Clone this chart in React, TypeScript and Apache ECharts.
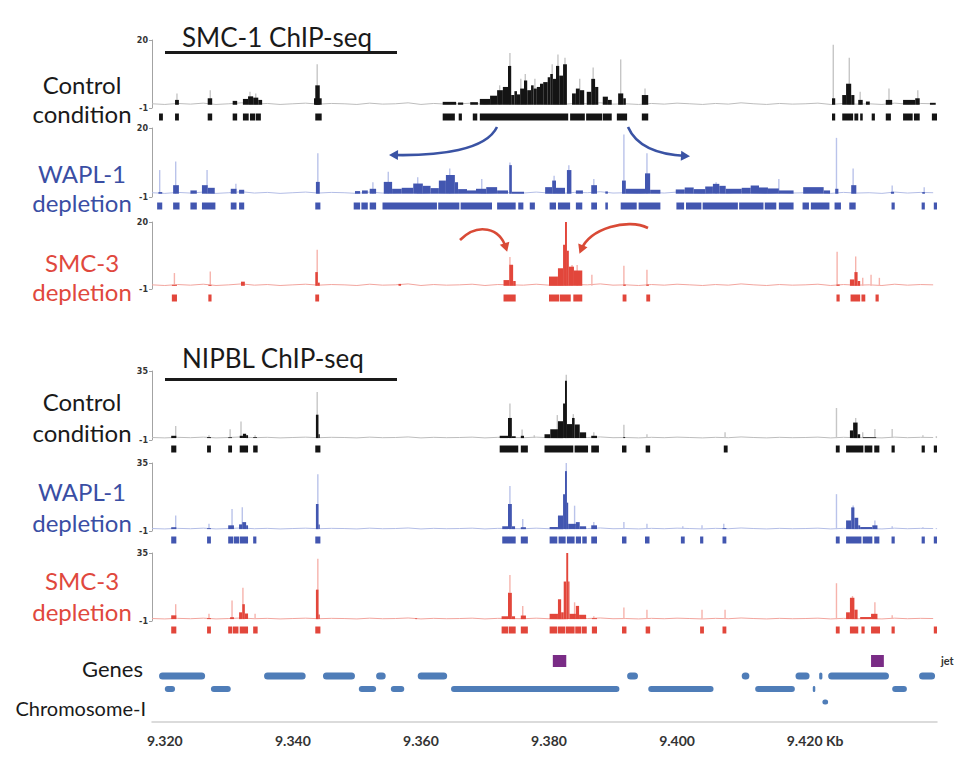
import React, { useEffect, useRef } from "react";
import * as echarts from "echarts";

// ---------- genomic axis (kb) ----------
const X_MIN = 9318;
const X_MAX = 9440.6;
const X_TICKS = [9320, 9340, 9360, 9380, 9400, 9420];

// background read-depth noise (every 2 kb from 9318)
const NOISE_X0 = 9318;
const NOISE_STEP = 2;
const NOISE = [
  0.3, 0.1, 0.4, 0.2, 0.5, 0.1, 0.3, 0.6, 0.2, 0.4,
  0.1, 0.3, 0.5, 0.2, 0.4, 0.3, 0.1, 0.5, 0.2, 0.3,
  0.6, 0.1, 0.4, 0.2, 0.3, 0.5, 0.1, 0.4, 0.3, 0.2,
  0.5, 0.2, 0.1, 0.4, 0.3, 0.6, 0.2, 0.3, 0.1, 0.4,
  0.2, 0.5, 0.3, 0.1, 0.4, 0.2, 0.6, 0.3, 0.1, 0.4,
  0.2, 0.3, 0.5, 0.1, 0.4, 0.2, 0.3, 0.1, 0.5, 0.2,
  0.4, 0.3,
];

// ---------- SMC-1 ChIP-seq ----------
// blocks: [start kb, end kb, signal]; ghosts: [kb, max signal]; peaks: [start kb, end kb]
const SMC1_CTRL_BLOCKS = [
  [9321.6, 9322.2, 1.5], [9326.7, 9327.4, 2], [9330.6, 9331.3, 1.2], [9332.2, 9333.0, 1.8],
  [9333.0, 9333.8, 2.6], [9333.8, 9334.6, 2.2], [9334.6, 9335.2, 1.5], [9343.3, 9344.5, 2],
  [9343.5, 9344.2, 6], [9363.4, 9365.5, 0.9], [9365.8, 9366.6, 0.7], [9367.7, 9368.9, 0.8],
  [9369.2, 9370.8, 1.8], [9370.8, 9371.9, 2.8], [9371.9, 9372.8, 4.5], [9372.8, 9373.6, 5.5],
  [9373.6, 9374.1, 12], [9374.1, 9374.6, 3], [9374.6, 9375.0, 4.2], [9375.0, 9375.5, 3.2],
  [9375.5, 9376.1, 5], [9376.1, 9376.6, 7.5], [9376.6, 9377.2, 4.5], [9377.2, 9377.6, 6],
  [9377.6, 9378.1, 5], [9378.1, 9378.6, 5.5], [9378.6, 9379.1, 6.5], [9379.1, 9379.8, 7],
  [9379.8, 9380.2, 8.5], [9380.2, 9380.6, 9.5], [9380.6, 9381.1, 8], [9381.1, 9381.6, 12],
  [9381.6, 9382.2, 9], [9382.2, 9382.8, 12.5], [9383.6, 9384.2, 3.5], [9384.2, 9384.8, 5],
  [9384.8, 9385.5, 4.5], [9385.9, 9386.6, 4], [9386.6, 9387.2, 8], [9387.2, 9387.7, 5.5],
  [9388.4, 9389.2, 2.5], [9389.2, 9389.8, 1.5], [9390.8, 9391.6, 3.5], [9391.6, 9392.0, 2],
  [9394.5, 9395.5, 3], [9424.2, 9424.7, 2], [9425.8, 9426.4, 3], [9426.4, 9427.2, 6.5],
  [9427.2, 9427.7, 3], [9428.3, 9429.0, 1.5], [9429.5, 9430.1, 1], [9432.6, 9433.6, 1.5],
  [9435.3, 9437.2, 1.5], [9437.2, 9437.9, 2], [9439.5, 9440.4, 0.6],
];
const SMC1_CTRL_GHOSTS = [
  [9321.9, 3.5], [9327.1, 4.5], [9333.3, 4], [9334.2, 3.5], [9343.8, 12.5], [9372.3, 6],
  [9373.9, 16], [9375.6, 8], [9376.3, 9.5], [9377.8, 8], [9380.5, 12.5], [9381.4, 15.5],
  [9382.5, 14.5], [9384.8, 8], [9386.9, 11.5], [9391.2, 14], [9395.0, 5], [9424.4, 18.5],
  [9426.9, 14.5], [9428.6, 4], [9433.1, 5], [9437.6, 4.5],
];
const SMC1_CTRL_PEAKS = [
  [9319.1, 9319.7], [9321.6, 9322.2], [9326.7, 9327.4], [9330.6, 9331.3], [9332.2, 9333.1],
  [9333.3, 9334.1], [9334.2, 9335.0], [9343.5, 9344.5], [9363.4, 9365.3], [9365.9, 9366.4],
  [9368.1, 9368.8], [9369.2, 9383.0], [9383.3, 9385.6], [9385.8, 9388.3], [9388.4, 9389.8],
  [9390.6, 9392.2], [9394.5, 9395.5], [9424.2, 9424.7], [9425.8, 9427.5], [9427.7, 9428.3],
  [9428.6, 9429.0], [9430.4, 9430.9], [9432.6, 9433.4], [9435.3, 9436.8], [9437.0, 9437.9],
  [9439.8, 9440.6],
];

const SMC1_WAPL_BLOCKS = [
  [9319.0, 9319.6, 0.5], [9321.3, 9322.2, 2.6], [9324.0, 9325.0, 1], [9325.8, 9326.7, 2.6],
  [9326.7, 9327.8, 1.8], [9330.3, 9331.2, 1.5], [9331.6, 9332.4, 1.2], [9343.6, 9344.2, 3.6],
  [9349.7, 9350.5, 0.8], [9350.8, 9351.7, 1], [9352.0, 9353.0, 1.5], [9354.2, 9355.5, 3.6],
  [9355.5, 9357.0, 1.5], [9357.0, 9358.8, 1.8], [9358.8, 9360.3, 3.1], [9360.3, 9361.5, 2.4],
  [9361.5, 9362.8, 1.7], [9362.8, 9363.9, 4], [9363.9, 9365.3, 5.7], [9365.3, 9365.8, 3.5],
  [9365.8, 9367.2, 1.4], [9367.2, 9368.6, 1.0], [9368.6, 9370.2, 1.5], [9370.2, 9371.9, 2],
  [9371.9, 9373.6, 1], [9373.8, 9374.2, 8.7], [9374.2, 9376.1, 0.6], [9379.4, 9380.5, 2],
  [9380.5, 9381.1, 4], [9381.1, 9382.5, 1.8], [9382.8, 9383.5, 7.2], [9384.2, 9385.3, 1],
  [9386.6, 9387.5, 2.6], [9388.8, 9389.2, 0.7], [9391.4, 9392.0, 4], [9392.0, 9395.0, 1.5],
  [9395.0, 9395.8, 6.2], [9395.8, 9397.4, 1.2], [9399.8, 9401.2, 1.3], [9401.2, 9402.6, 1.9],
  [9402.6, 9404.4, 1.4], [9404.4, 9405.6, 2.2], [9405.6, 9406.6, 3], [9406.6, 9407.6, 2.4],
  [9407.6, 9410.1, 1.5], [9410.1, 9411.5, 1.8], [9411.5, 9412.8, 2.5], [9412.8, 9414.2, 1.9],
  [9414.2, 9415.9, 1.6], [9415.9, 9418.2, 1], [9419.7, 9422.9, 2], [9422.9, 9423.9, 1],
  [9424.7, 9425.2, 1.5], [9427.2, 9428.0, 2.6], [9433.4, 9433.9, 0.6], [9438.3, 9438.7, 0.5],
];
const SMC1_WAPL_GHOSTS = [
  [9319.2, 7.2], [9321.7, 9.8], [9326.6, 7.2], [9331.1, 3], [9343.9, 12.3], [9352.5, 3.5],
  [9354.9, 6.7], [9359.5, 5], [9364.5, 7.7], [9369.5, 4.5], [9373.9, 9.5], [9380.8, 5.5],
  [9383.1, 8.7], [9387.0, 4.5], [9391.7, 18], [9395.3, 12.3], [9406.1, 3.5], [9415.9, 4.5],
  [9424.9, 17], [9427.5, 7.7], [9433.6, 2.5], [9438.6, 2],
];
const SMC1_WAPL_PEAKS = [
  [9318.8, 9319.6], [9321.3, 9322.3], [9324.0, 9325.0], [9325.8, 9327.9], [9330.3, 9331.2],
  [9331.6, 9332.4], [9343.5, 9344.3], [9349.5, 9350.5], [9350.7, 9351.7], [9352.0, 9353.0],
  [9354.0, 9362.5], [9362.7, 9366.0], [9366.2, 9371.1], [9371.9, 9374.8], [9375.2, 9376.0],
  [9377.0, 9377.8], [9380.1, 9381.1], [9381.4, 9383.3], [9384.2, 9385.2], [9386.6, 9387.5],
  [9388.8, 9389.2], [9391.2, 9393.7], [9394.0, 9397.4], [9399.9, 9401.1], [9401.4, 9403.8],
  [9404.0, 9409.5], [9409.7, 9413.5], [9413.7, 9415.5], [9415.9, 9418.2], [9419.6, 9420.6],
  [9420.9, 9423.8], [9424.6, 9425.6], [9426.9, 9427.9], [9433.5, 9434.0], [9438.2, 9438.7],
  [9440.1, 9440.6],
];

const SMC1_SMC3_BLOCKS = [
  [9321.1, 9321.9, 0.3], [9326.8, 9327.3, 0.3], [9331.9, 9332.5, 1.3], [9343.5, 9343.9, 4.3],
  [9343.9, 9344.2, 1], [9356.5, 9356.9, 0.6], [9372.9, 9373.8, 1.8], [9373.8, 9374.4, 6.6],
  [9374.4, 9374.8, 1.5], [9380.0, 9381.4, 2.9], [9381.4, 9382.2, 5.5], [9382.2, 9382.5, 12.9],
  [9382.5, 9382.8, 20], [9382.8, 9383.1, 11], [9383.1, 9383.9, 6], [9383.9, 9385.2, 4.8],
  [9391.6, 9392.0, 0.4], [9395.2, 9395.6, 0.4], [9424.9, 9425.4, 0.4], [9427.0, 9427.7, 2],
  [9427.7, 9428.2, 4.3], [9428.2, 9428.6, 1.5],
];
const SMC1_SMC3_GHOSTS = [
  [9321.5, 4], [9327.1, 4.5], [9343.8, 11.3], [9373.9, 9], [9382.7, 20], [9383.6, 6.5],
  [9384.4, 6.5], [9386.7, 3.5], [9391.7, 6.3], [9395.3, 5], [9425.0, 10.7], [9427.9, 9.2],
  [9429.0, 2.5], [9430.3, 3.5], [9431.6, 2.5],
];
const SMC1_SMC3_PEAKS = [
  [9321.1, 9321.9], [9326.8, 9327.3], [9343.5, 9344.1], [9372.9, 9374.8], [9380.0, 9381.6],
  [9381.7, 9383.4], [9383.8, 9385.2], [9391.5, 9392.1], [9395.2, 9395.8], [9424.9, 9425.4],
  [9427.1, 9428.6], [9428.8, 9429.4], [9431.0, 9431.5],
];

// ---------- NIPBL ChIP-seq ----------
const NIPBL_CTRL_BLOCKS = [
  [9321.0, 9321.8, 1.2], [9326.6, 9327.2, 0.5], [9329.9, 9330.5, 0.4], [9331.7, 9332.2, 1.2],
  [9332.2, 9332.7, 2.2], [9332.7, 9333.0, 1.5], [9333.8, 9334.4, 0.5], [9343.6, 9344.0, 12.2],
  [9344.0, 9344.2, 2], [9372.3, 9373.6, 1.2], [9373.6, 9374.2, 10.5], [9374.2, 9374.8, 1],
  [9375.6, 9376.1, 1.2], [9379.3, 9380.2, 2], [9380.2, 9381.4, 4.6], [9381.4, 9382.2, 8.8],
  [9382.2, 9382.5, 18], [9382.5, 9382.8, 29.9], [9382.8, 9383.6, 7.3], [9383.6, 9384.0, 10.5],
  [9384.0, 9384.8, 7.1], [9384.8, 9385.8, 3], [9386.6, 9387.5, 1.2], [9391.6, 9391.9, 0.5],
  [9427.0, 9427.5, 4], [9427.5, 9428.2, 8.1], [9428.2, 9428.6, 2], [9429.0, 9431.1, 0.4],
];
const NIPBL_CTRL_GHOSTS = [
  [9321.7, 6.3], [9326.9, 1.5], [9330.2, 4.6], [9331.9, 8.6], [9334.1, 1.5], [9343.8, 24],
  [9373.9, 18], [9375.8, 4.5], [9377.7, 1.5], [9381.3, 12], [9382.7, 33], [9383.8, 12.5],
  [9387.0, 3], [9391.7, 7], [9395.3, 2], [9407.5, 3], [9424.9, 15.7], [9427.9, 10.5],
  [9429.0, 3], [9430.9, 4.7], [9433.6, 4.7], [9438.4, 1.5], [9440.5, 1],
];
const NIPBL_CTRL_PEAKS = [
  [9321.0, 9321.8], [9326.6, 9327.2], [9329.9, 9330.5], [9331.7, 9333.0], [9333.8, 9334.5],
  [9343.5, 9344.3], [9372.3, 9375.2], [9375.6, 9376.7], [9379.3, 9383.8], [9384.0, 9386.1],
  [9386.6, 9387.8], [9391.4, 9392.1], [9395.1, 9395.8], [9407.3, 9407.9], [9424.8, 9425.4],
  [9426.4, 9429.1], [9429.3, 9430.5], [9430.8, 9431.6], [9433.5, 9434.0], [9438.2, 9438.7],
  [9440.1, 9440.6],
];

const NIPBL_WAPL_BLOCKS = [
  [9321.0, 9321.8, 1], [9326.6, 9327.2, 0.5], [9329.9, 9330.8, 2], [9331.6, 9332.1, 2.5],
  [9332.1, 9332.7, 3.7], [9332.7, 9333.0, 2], [9343.6, 9344.0, 13.3], [9344.0, 9344.2, 2.5],
  [9372.7, 9373.6, 1.5], [9373.6, 9374.2, 13.3], [9374.2, 9374.7, 1.5], [9375.6, 9376.4, 1],
  [9380.1, 9381.4, 1.1], [9381.4, 9382.2, 7.2], [9382.2, 9382.5, 18.5], [9382.5, 9382.8, 30.7],
  [9382.8, 9383.0, 14], [9383.0, 9384.2, 2.8], [9384.2, 9384.8, 3.7], [9384.8, 9385.8, 1.5],
  [9386.6, 9387.5, 2], [9407.1, 9407.7, 0.5], [9426.4, 9427.2, 4.6], [9427.2, 9427.7, 11.5],
  [9427.7, 9428.3, 6], [9428.3, 9428.6, 2], [9428.6, 9430.5, 1.1], [9430.5, 9431.3, 2],
];
const NIPBL_WAPL_GHOSTS = [
  [9321.7, 7.2], [9326.9, 2.8], [9330.5, 10.7], [9332.1, 11.6], [9343.9, 29], [9373.9, 22.8],
  [9375.9, 5.4], [9382.7, 35], [9384.0, 12.4], [9387.0, 3.7], [9391.7, 3.7], [9395.3, 2.8],
  [9400.9, 1.5], [9403.9, 2], [9407.3, 2.8], [9424.9, 18.5], [9427.5, 12.5], [9430.9, 4.6],
  [9433.6, 1.5], [9438.4, 1], [9440.5, 0.5],
];
const NIPBL_WAPL_PEAKS = [
  [9321.0, 9321.8], [9326.6, 9327.2], [9329.9, 9330.7], [9330.8, 9331.6], [9331.7, 9333.0],
  [9333.8, 9334.3], [9343.5, 9344.3], [9372.7, 9374.8], [9375.6, 9376.7], [9380.1, 9381.3],
  [9381.5, 9382.6], [9382.8, 9384.0], [9384.2, 9385.0], [9385.2, 9385.9], [9386.6, 9387.5],
  [9391.4, 9392.1], [9395.0, 9395.7], [9400.6, 9401.2], [9403.6, 9404.1], [9407.1, 9407.7],
  [9424.8, 9425.4], [9426.4, 9428.8], [9429.0, 9430.5], [9430.8, 9431.6], [9433.5, 9434.0],
  [9438.2, 9438.7], [9440.1, 9440.6],
];

const NIPBL_SMC3_BLOCKS = [
  [9321.0, 9321.8, 2], [9326.6, 9327.2, 0.5], [9330.2, 9330.8, 1], [9331.6, 9332.1, 3.6],
  [9332.1, 9332.5, 7.9], [9332.5, 9333.0, 3], [9343.6, 9344.0, 15.6], [9344.0, 9344.2, 2.5],
  [9359.1, 9359.4, 0.4], [9372.6, 9373.6, 1.5], [9373.6, 9374.2, 13.9], [9374.2, 9374.7, 1.5],
  [9375.6, 9376.4, 1.9], [9380.1, 9381.4, 2.8], [9381.4, 9381.9, 10.5], [9381.9, 9382.3, 3.6],
  [9382.3, 9382.7, 19.9], [9382.7, 9383.0, 35], [9383.0, 9383.2, 19.9], [9383.2, 9384.2, 2.8],
  [9384.2, 9384.7, 7], [9384.7, 9385.8, 2.3], [9386.7, 9387.5, 0.5], [9426.4, 9427.0, 3.6],
  [9427.0, 9427.7, 11.3], [9427.7, 9428.2, 5], [9428.6, 9430.3, 1.1], [9430.3, 9431.3, 2.8],
];
const NIPBL_SMC3_GHOSTS = [
  [9321.7, 7.9], [9326.9, 2.9], [9330.5, 9.8], [9332.2, 16.6], [9334.1, 2.9], [9343.9, 32],
  [9373.9, 23.4], [9375.9, 7], [9384.0, 8.9], [9387.0, 1.5], [9391.7, 6.2], [9395.3, 5],
  [9403.9, 5], [9407.5, 5], [9424.9, 19], [9427.4, 12.2], [9430.9, 8.9], [9433.6, 2],
];
const NIPBL_SMC3_PEAKS = [
  [9321.0, 9321.8], [9326.6, 9327.2], [9329.9, 9330.5], [9330.6, 9331.5], [9331.7, 9333.0],
  [9333.8, 9334.5], [9343.5, 9344.3], [9372.6, 9373.6], [9373.7, 9374.8], [9375.6, 9376.7],
  [9380.1, 9381.3], [9381.4, 9382.5], [9382.6, 9384.0], [9384.1, 9385.0], [9385.1, 9385.9],
  [9386.7, 9387.5], [9391.4, 9392.1], [9395.1, 9395.8], [9403.6, 9404.2], [9407.1, 9407.7],
  [9424.8, 9425.4], [9427.0, 9428.3], [9428.8, 9429.3], [9430.3, 9431.7], [9433.5, 9434.0],
  [9440.1, 9440.6],
];

// ---------- genes: [start kb, end kb, row] ----------
const GENES = [
  [9319.1, 9326.3, 0], [9335.5, 9342.0, 0], [9344.7, 9349.7, 0], [9353.0, 9354.5, 0],
  [9359.5, 9364.1, 0], [9392.2, 9393.9, 0], [9410.1, 9411.3, 0], [9418.5, 9420.7, 0],
  [9422.2, 9422.7, 0], [9423.6, 9433.1, 0], [9437.8, 9440.3, 0],
  [9320.0, 9321.6, 1], [9327.2, 9330.3, 1], [9350.3, 9353.0, 1], [9355.3, 9357.4, 1],
  [9364.7, 9391.0, 1], [9395.5, 9405.7, 1], [9412.2, 9418.4, 1], [9421.2, 9421.5, 1],
  [9433.6, 9435.9, 1],
  [9422.7, 9423.6, 2],
];
const GENE_MARKS = [[9380.6, 9382.7], [9430.3, 9432.3]];

const PANEL_TITLES = ["SMC-1 ChIP-seq", "NIPBL ChIP-seq"];
const TRACK_LABELS = [
  ["Control", "condition"], ["WAPL-1", "depletion"], ["SMC-3", "depletion"],
  ["Control", "condition"], ["WAPL-1", "depletion"], ["SMC-3", "depletion"],
];
const TRACK_MAX = [20, 20, 20, 35, 35, 35];
const TRACK_DATA = [
  [SMC1_CTRL_BLOCKS, SMC1_CTRL_GHOSTS, SMC1_CTRL_PEAKS],
  [SMC1_WAPL_BLOCKS, SMC1_WAPL_GHOSTS, SMC1_WAPL_PEAKS],
  [SMC1_SMC3_BLOCKS, SMC1_SMC3_GHOSTS, SMC1_SMC3_PEAKS],
  [NIPBL_CTRL_BLOCKS, NIPBL_CTRL_GHOSTS, NIPBL_CTRL_PEAKS],
  [NIPBL_WAPL_BLOCKS, NIPBL_WAPL_GHOSTS, NIPBL_WAPL_PEAKS],
  [NIPBL_SMC3_BLOCKS, NIPBL_SMC3_GHOSTS, NIPBL_SMC3_PEAKS],
];

// ---------- layout & style ----------
const PALETTES: any = {
  black: { solid: "#141414", ghost: "#c6c6c6", noise: "#bdbdbd", text: "#1a1a1a" },
  blue: { solid: "#4256b0", ghost: "#bac3ea", noise: "#b3bde6", text: "#3a4ea4" },
  red: { solid: "#e2463b", ghost: "#f6b3ac", noise: "#f2a59e", text: "#e0483d" },
};
const TRACK_COLOR = ["black", "blue", "red", "black", "blue", "red"];
const TRACK_TOP = [40, 128, 222, 371, 463, 553];
const TRACK_H = [68, 69, 67, 69, 68, 68];
const LABEL_Y = [[84, 113], [173, 202], [262, 291], [401, 432], [491, 522], [580, 611]];
const LABEL_X = 82;
const GRID_LEFT = 152;
const GRID_W = 785;
const FONT = "Lato, 'Open Sans', sans-serif";

function arrow(x1: number, y1: number, c1x: number, c1y: number, c2x: number, c2y: number, x2: number, y2: number, color: string) {
  let dx = x2 - c2x, dy = y2 - c2y;
  const len = Math.sqrt(dx * dx + dy * dy) || 1;
  dx /= len; dy /= len;
  const nx = -dy, ny = dx;
  const tip = [x2 + dx * 4, y2 + dy * 4];
  const bx = x2 - dx * 5, by = y2 - dy * 5;
  return [
    {
      type: "bezierCurve",
      shape: { x1, y1, x2, y2, cpx1: c1x, cpy1: c1y, cpx2: c2x, cpy2: c2y },
      style: { stroke: color, lineWidth: 2.6, fill: null },
      silent: true,
    },
    {
      type: "polygon",
      shape: { points: [tip, [bx + nx * 5, by + ny * 5], [bx - nx * 5, by - ny * 5]] },
      style: { fill: color },
      silent: true,
    },
  ];
}

function buildOption() {
  const grids: any[] = [];
  const xAxes: any[] = [];
  const yAxes: any[] = [];
  const series: any[] = [];
  const noisePts = NOISE.map((v, i) => [NOISE_X0 + i * NOISE_STEP, v]);

  TRACK_DATA.forEach(([blocks, ghosts, peaks], i) => {
    const pal = PALETTES[TRACK_COLOR[i]];
    const max = TRACK_MAX[i];
    grids.push({ left: GRID_LEFT, width: GRID_W, top: TRACK_TOP[i], height: TRACK_H[i], outerBoundsMode: "none" });
    xAxes.push({ gridIndex: i, type: "value", min: X_MIN, max: X_MAX, show: false, splitLine: { show: false } });
    yAxes.push({
      gridIndex: i, type: "value", min: -1, max, interval: max + 1,
      axisLine: { show: true, onZero: false, lineStyle: { color: "#a3a3a3", width: 1 } },
      axisTick: { show: true, length: 3, customValues: [-1, max], lineStyle: { color: "#a3a3a3" } },
      axisLabel: { customValues: [-1, max], fontSize: 8, fontWeight: "bold", color: "#333", margin: 4, fontFamily: "DejaVu Sans" },
      splitLine: { show: false },
    });
    series.push({
      type: "line", xAxisIndex: i, yAxisIndex: i, data: noisePts, symbol: "none", silent: true, z: 1,
      lineStyle: { width: 1, color: pal.noise },
    });
    series.push({
      type: "custom", xAxisIndex: i, yAxisIndex: i, data: ghosts, silent: true, z: 2, clip: false,
      renderItem: (_p: any, api: any) => {
        const a = api.coord([api.value(0), 0]);
        const b = api.coord([api.value(0), api.value(1)]);
        return { type: "rect", shape: { x: a[0] - 0.7, y: b[1], width: 1.4, height: a[1] - b[1] }, style: { fill: pal.ghost } };
      },
    });
    series.push({
      type: "custom", xAxisIndex: i, yAxisIndex: i, data: blocks, silent: true, z: 3, clip: false,
      renderItem: (_p: any, api: any) => {
        const a = api.coord([api.value(0), 0]);
        const b = api.coord([api.value(1), api.value(2)]);
        return { type: "rect", shape: { x: a[0], y: b[1], width: Math.max(1.2, b[0] - a[0]), height: a[1] - b[1] }, style: { fill: pal.solid } };
      },
    });
    series.push({
      type: "custom", xAxisIndex: i, yAxisIndex: i, data: peaks, silent: true, z: 3, clip: false,
      renderItem: (params: any, api: any) => {
        const cs = params.coordSys;
        const a = api.coord([api.value(0), 0]);
        const b = api.coord([api.value(1), 0]);
        return { type: "rect", shape: { x: a[0], y: cs.y + cs.height + 5.5, width: Math.max(2, b[0] - a[0]), height: 7 }, style: { fill: pal.solid } };
      },
    });
  });

  // gene track
  const gi = TRACK_DATA.length;
  grids.push({ left: GRID_LEFT, width: GRID_W, top: 650, height: 72, outerBoundsMode: "none" });
  xAxes.push({
    gridIndex: gi, type: "value", min: X_MIN, max: X_MAX,
    axisLine: { show: true, onZero: false, lineStyle: { color: "#cfcfcf", width: 1.5 } },
    axisTick: { show: false },
    splitLine: { show: false },
    axisLabel: {
      customValues: X_TICKS,
      fontSize: 14, fontWeight: "bold", color: "#333", fontFamily: FONT, margin: 11,
      formatter: (v: number) => (Math.round(v) === 9420 ? "{pad|}9.420 Kb" : (v / 1000).toFixed(3)),
      rich: { pad: { width: 20 } },
    },
  });
  yAxes.push({ gridIndex: gi, type: "value", min: 0, max: 1, show: false, splitLine: { show: false } });
  const ROW_Y = [26, 39, 52];
  const ROW_H = [7, 6, 5];
  series.push({
    type: "custom", xAxisIndex: gi, yAxisIndex: gi, data: GENES, silent: true, clip: false,
    renderItem: (params: any, api: any) => {
      const cs = params.coordSys;
      const a = api.coord([api.value(0), 0]);
      const b = api.coord([api.value(1), 0]);
      const r = api.value(2);
      const h = ROW_H[r];
      return { type: "rect", shape: { x: a[0], y: cs.y + ROW_Y[r] - h / 2, width: Math.max(2.5, b[0] - a[0]), height: h, r: h / 2 }, style: { fill: "#4f7db8" } };
    },
  });
  series.push({
    type: "custom", xAxisIndex: gi, yAxisIndex: gi, data: GENE_MARKS, silent: true, clip: false,
    renderItem: (params: any, api: any) => {
      const cs = params.coordSys;
      const a = api.coord([api.value(0), 0]);
      const b = api.coord([api.value(1), 0]);
      return { type: "rect", shape: { x: a[0], y: cs.y + 5, width: b[0] - a[0], height: 12 }, style: { fill: "#7a2c86" } };
    },
  });

  // graphic texts
  const graphic: any[] = [];
  const titleY = [37, 358];
  const ruleY = [51, 378];
  PANEL_TITLES.forEach((t, k) => {
    graphic.push({ type: "text", x: 182, y: titleY[k], silent: true, style: { text: t, font: `26px ${FONT}`, fill: "#1a1a1a", align: "left", verticalAlign: "middle" } });
    graphic.push({ type: "rect", silent: true, shape: { x: 165, y: ruleY[k], width: 232, height: 3 }, style: { fill: "#1a1a1a" } });
  });
  TRACK_LABELS.forEach((lines, i) => {
    const pal = PALETTES[TRACK_COLOR[i]];
    lines.forEach((ln, j) => {
      graphic.push({ type: "text", x: LABEL_X, y: LABEL_Y[i][j], silent: true, style: { text: ln, font: `24px ${FONT}`, fill: pal.text, align: "center", verticalAlign: "middle" } });
    });
  });
  graphic.push({ type: "text", x: 143, y: 668, silent: true, style: { text: "Genes", font: `22px ${FONT}`, fill: "#1a1a1a", align: "right", verticalAlign: "middle" } });
  graphic.push({ type: "text", x: 146, y: 708, silent: true, style: { text: "Chromosome-I", font: `20px ${FONT}`, fill: "#1a1a1a", align: "right", verticalAlign: "middle" } });
  graphic.push({ type: "text", x: 941, y: 660, silent: true, style: { text: "jet", font: `bold 11px ${FONT}`, fill: "#333", align: "left", verticalAlign: "middle" } });

  // arrows
  graphic.push(...arrow(497, 127, 486, 150, 440, 156, 393, 155, "#3a53a4"));
  graphic.push(...arrow(628, 127, 638, 150, 665, 155, 686, 156, "#3a53a4"));
  graphic.push(...arrow(460, 240, 478, 222, 500, 228, 506, 248, "#d94a36"));
  graphic.push(...arrow(648, 228, 628, 218, 590, 228, 581, 250, "#d94a36"));

  return {
    animation: false,
    backgroundColor: "#ffffff",
    grid: grids,
    xAxis: xAxes,
    yAxis: yAxes,
    series,
    graphic,
  };
}

export default function App() {
  const ref = useRef<HTMLDivElement>(null);
  useEffect(() => {
    document.body.style.margin = "0";
    if (!ref.current) return;
    const chart = echarts.init(ref.current, null, { renderer: "svg" });
    chart.setOption(buildOption() as any);
    return () => chart.dispose();
  }, []);
  return <div ref={ref} style={{ width: 970, height: 760 }} />;
}
